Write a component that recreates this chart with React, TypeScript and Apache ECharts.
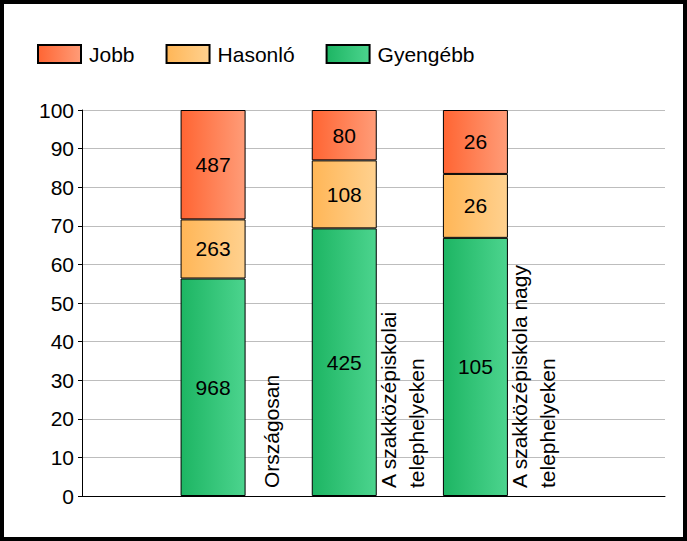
import React, { useEffect, useRef } from "react";
import * as echarts from "echarts";

// ---- data ----
const categories = [
  "Országosan",
  "A szakközépiskolai\ntelephelyeken",
  "A szakközépiskola nagy\ntelephelyeken",
];
const legendNames = ["Jobb", "Hasonló", "Gyengébb"];
const jobb = [487, 80, 26];
const hasonlo = [263, 108, 26];
const gyengebb = [968, 425, 105];
const yMin = 0;
const yMax = 100;
const yInterval = 10;

// ---- derived (100% stacked) ----
const totals = categories.map((_, i) => jobb[i] + hasonlo[i] + gyengebb[i]);
const toPct = (arr: number[]) => arr.map((v, i) => (v / totals[i]) * 100);

const FONT = "'Liberation Sans', Arial, sans-serif";

const grad = (a: string, b: string) =>
  new echarts.graphic.LinearGradient(0, 0, 1, 0, [
    { offset: 0, color: a },
    { offset: 1, color: b },
  ]);

const seriesDefs = [
  { name: "Gyengébb", counts: gyengebb, c1: "#1db563", c2: "#4cd48e" },
  { name: "Hasonló", counts: hasonlo, c1: "#ffb657", c2: "#ffd18f" },
  { name: "Jobb", counts: jobb, c1: "#ff6533", c2: "#ff9c78" },
];

// layout of frame axis (grid 0) in bar-step units
const frameMax = 4.45;
const labelShift = 0.45;

export default function App() {
  const ref = useRef<HTMLDivElement>(null);
  useEffect(() => {
    if (!ref.current) return;
    const chart = echarts.init(ref.current, undefined, { renderer: "svg" });
    const barSeries = seriesDefs.map((s) => ({
      type: "bar",
      name: s.name,
      stack: "total",
      xAxisIndex: 1,
      yAxisIndex: 1,
      barWidth: 65,
      data: toPct(s.counts),
      itemStyle: {
        color: grad(s.c1, s.c2),
        borderColor: "#000",
        borderWidth: 1,
      },
      label: {
        show: true,
        position: "inside",
        color: "#000",
        fontSize: 21,
        fontFamily: FONT,
        formatter: (p: any) => String(s.counts[p.dataIndex]),
      },
    }));
    chart.setOption({
      animation: false,
      backgroundColor: "#fff",
      textStyle: { fontFamily: FONT },
      legend: {
        data: legendNames,
        left: 32,
        top: 37,
        itemWidth: 43,
        itemHeight: 18,
        itemGap: 31,
        icon: "rect",
        selectedMode: false,
        textStyle: {
          fontSize: 21,
          color: "#000",
          fontFamily: FONT,
          lineHeight: 24,
          padding: [0, 0, 0, 3],
        },
      },
      grid: [
        { left: 82, right: 22, top: 110, bottom: 45 },
        { left: 147.5, right: 146, top: 110, bottom: 45 },
      ],
      xAxis: [
        {
          type: "value",
          gridIndex: 0,
          min: 0,
          max: frameMax,
          axisLine: { show: true, lineStyle: { color: "#000", width: 1 } },
          axisTick: { show: false },
          axisLabel: { show: false },
          splitLine: { show: false },
        },
        {
          type: "category",
          gridIndex: 1,
          data: categories,
          axisLine: { show: false },
          axisTick: { show: false },
          axisLabel: { show: false },
          splitLine: { show: false },
        },
      ],
      yAxis: [
        {
          type: "value",
          gridIndex: 0,
          min: yMin,
          max: yMax,
          interval: yInterval,
          axisLine: { show: true, lineStyle: { color: "#000", width: 1 } },
          axisTick: { show: true, length: 4, lineStyle: { color: "#000" } },
          axisLabel: { color: "#000", fontSize: 21, fontFamily: FONT, margin: 8 },
          splitLine: { show: true, lineStyle: { color: "#bdbdbd", width: 1 } },
        },
        {
          type: "value",
          gridIndex: 1,
          min: yMin,
          max: yMax,
          show: false,
        },
      ],
      series: [
        ...barSeries,
        {
          type: "scatter",
          name: "kategoriak",
          xAxisIndex: 0,
          yAxisIndex: 0,
          symbolSize: 0,
          silent: true,
          clip: false,
          z: 5,
          itemStyle: { opacity: 1 },
          data: categories.map((c, i) => ({ value: [i + 1 + labelShift, 0], name: c })),
          label: {
            show: true,
            position: "inside",
            rotate: 90,
            align: "left",
            verticalAlign: "middle",
            padding: [0, 0, 0, 8],
            color: "#000",
            opacity: 1,
            fontSize: 21,
            lineHeight: 28,
            fontFamily: FONT,
            formatter: (p: any) => p.name,
          },
        },
      ],
    });
    return () => chart.dispose();
  }, []);
  return (
    <div style={{ position: "fixed", left: 0, top: 0, width: 687, height: 541, background: "#fff" }}>
      <div ref={ref} style={{ position: "absolute", left: 0, top: 0, width: 687, height: 541 }} />
      <div
        style={{
          position: "absolute",
          left: 0,
          top: 0,
          width: 687,
          height: 541,
          boxSizing: "border-box",
          border: "4px solid #000",
          pointerEvents: "none",
        }}
      />
    </div>
  );
}
